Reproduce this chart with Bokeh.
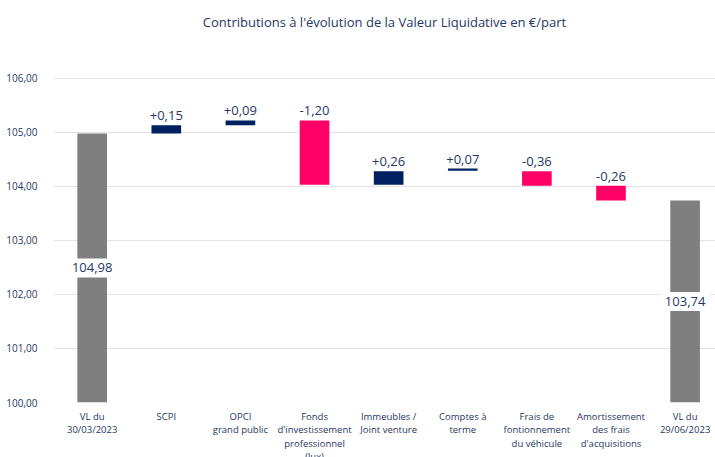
from bokeh.plotting import figure
from bokeh.models import Range1d, FixedTicker, ColumnDataSource
from bokeh.core.properties import value
from bokeh.embed import file_html
from bokeh.resources import INLINE

# ---- data ----
categories = [
    "VL du\n30/03/2023",
    "SCPI",
    "OPCI\ngrand public",
    "Fonds\nd'investissement\nprofessionnel\n(lux)",
    "Immeubles /\nJoint venture",
    "Comptes à\nterme",
    "Frais de\nfontionnement\ndu véhicule",
    "Amortissement\ndes frais\nd'acquisitions",
    "VL du\n29/06/2023",
]
bar_low = [100.00, 104.98, 105.13, 104.03, 104.03, 104.29, 104.01, 103.74, 100.00]
bar_high = [104.98, 105.13, 105.22, 105.22, 104.28, 104.33, 104.28, 104.01, 103.74]
value_labels = ["104,98", "+0,15", "+0,09", "-1,20", "+0,26", "+0,07", "-0,36", "-0,26", "103,74"]
kinds = ["total", "up", "up", "down", "up", "up", "down", "down", "total"]
y_ticks = [100, 101, 102, 103, 104, 105, 106]
y_tick_labels = ["100,00", "101,00", "102,00", "103,00", "104,00", "105,00", "106,00"]

FONT = "Open Sans"
NAVY_TXT = "#1f3864"
colors = {"total": "#7f7f7f", "up": "#002060", "down": "#ff0066"}

xs = list(range(len(categories)))

p = figure(
    frame_width=662, frame_height=362,
    min_border_left=53, min_border_right=0, min_border_top=40, min_border_bottom=55,
    x_range=Range1d(-0.522, 8.41), y_range=Range1d(100, 106.70),
    output_backend="svg", toolbar_location=None,
    title="Contributions à l'évolution de la Valeur Liquidative en €/part",
)
p.title.align = "center"
p.title.text_font = FONT
p.title.text_font_size = "13px"
p.title.text_font_style = "normal"
p.title.text_color = NAVY_TXT
p.title.standoff = 19

src = ColumnDataSource(dict(
    x=xs, low=bar_low, high=bar_high,
    color=[colors[k] for k in kinds],
))
p.vbar(x="x", bottom="low", top="high", width=0.4, fill_color="color",
       line_color=None, source=src)

# delta labels above bars
dx = [x for x, k in zip(xs, kinds) if k != "total"]
dy = [h for h, k in zip(bar_high, kinds) if k != "total"]
dt = [t for t, k in zip(value_labels, kinds) if k != "total"]
p.text(x=dx, y=dy, text=dt, text_align="center", text_baseline="bottom",
       y_offset=-5, text_font=value(FONT), text_font_size="13px",
       text_color=NAVY_TXT)

# total labels inside bars on white boxes
tx = [x for x, k in zip(xs, kinds) if k == "total"]
ty = [(l + h) / 2 for l, h, k in zip(bar_low, bar_high, kinds) if k == "total"]
tt = [t for t, k in zip(value_labels, kinds) if k == "total"]
p.text(x=tx, y=ty, text=tt, text_align="center", text_baseline="middle",
       text_font=value(FONT), text_font_size="13px", text_color=NAVY_TXT,
       background_fill_color="white", padding=5)

# axes
p.yaxis.ticker = FixedTicker(ticks=y_ticks)
p.yaxis.major_label_overrides = {t: l for t, l in zip(y_ticks, y_tick_labels)}
p.yaxis.axis_line_color = None
p.yaxis.major_tick_line_color = None
p.yaxis.minor_tick_line_color = None
p.yaxis.major_label_standoff = 10
p.yaxis.major_label_text_font = FONT
p.yaxis.major_label_text_font_size = "10px"
p.yaxis.major_label_text_color = NAVY_TXT

p.xaxis.ticker = FixedTicker(ticks=xs)
p.xaxis.major_label_overrides = {x: c for x, c in zip(xs, categories)}
p.xaxis.axis_line_color = None
p.xaxis.major_tick_line_color = None
p.xaxis.minor_tick_line_color = None
p.xaxis.major_label_standoff = 1
p.xaxis.major_label_text_font = FONT
p.xaxis.major_label_text_font_size = "9.5px"
p.xaxis.major_label_text_color = NAVY_TXT
p.xaxis.major_label_text_line_height = 1.05

p.xgrid.visible = False
p.ygrid.grid_line_color = "#e3e3e3"
p.ygrid.grid_line_width = 1
p.outline_line_color = None
p.background_fill_color = "white"
p.border_fill_color = "white"

open("out.html", "w").write(file_html(p, INLINE))
